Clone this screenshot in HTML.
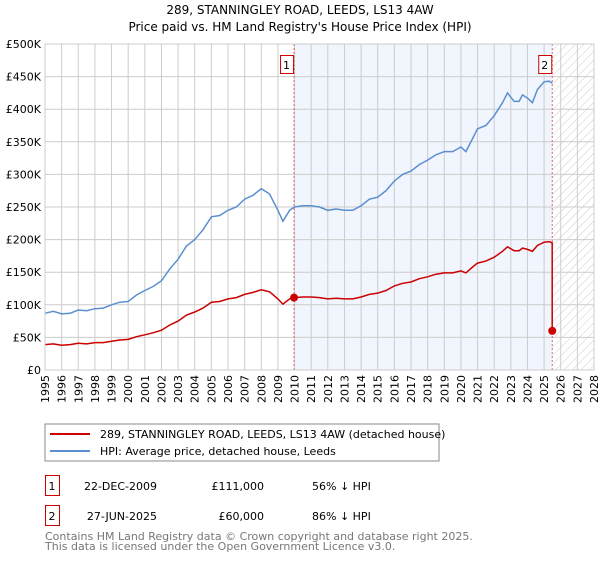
<!DOCTYPE html>
<html><head><meta charset="utf-8"><style>
body{margin:0;background:#fff;width:600px;height:560px;overflow:hidden;font-family:"DejaVu Sans","Liberation Sans",sans-serif;}
svg text{font-family:"DejaVu Sans","Liberation Sans",sans-serif;}
</style></head><body>
<svg id="chart" width="600" height="560" xmlns="http://www.w3.org/2000/svg">
<defs><pattern id="hatch" width="6" height="6" patternUnits="userSpaceOnUse" patternTransform="rotate(45)"><line x1="0" y1="0" x2="0" y2="6" stroke="#ccc" stroke-width="1"/></pattern></defs>
<text x="300" y="14" text-anchor="middle" font-size="12" fill="#000">289, STANNINGLEY ROAD, LEEDS, LS13 4AW</text>
<text x="300" y="31" text-anchor="middle" font-size="12" fill="#000">Price paid vs. HM Land Registry's House Price Index (HPI)</text>
<g id="plot"></g>
<rect x="45" y="424" width="394" height="37" fill="#fff" stroke="#888"/>
<line x1="50" y1="434" x2="90" y2="434" stroke="#cc0000" stroke-width="2"/>
<text x="100" y="438" font-size="11">289, STANNINGLEY ROAD, LEEDS, LS13 4AW (detached house)</text>
<line x1="50" y1="451" x2="90" y2="451" stroke="#5b8fd0" stroke-width="2"/>
<text x="100" y="455" font-size="11">HPI: Average price, detached house, Leeds</text>
<g font-size="11">
<rect x="45.5" y="475.5" width="14" height="20" fill="#fff" stroke="#cc0000"/>
<text x="52" y="490" text-anchor="middle">1</text>
<text x="157" y="490" text-anchor="end">22-DEC-2009</text>
<text x="264" y="490" text-anchor="end">£111,000</text>
<text x="312" y="490">56% ↓ HPI</text>
<rect x="45.5" y="505.5" width="14" height="20" fill="#fff" stroke="#cc0000"/>
<text x="52" y="520" text-anchor="middle">2</text>
<text x="157" y="520" text-anchor="end">27-JUN-2025</text>
<text x="264" y="520" text-anchor="end">£60,000</text>
<text x="312" y="520">86% ↓ HPI</text>
</g>
<text x="45" y="540" font-size="11" fill="#777">Contains HM Land Registry data © Crown copyright and database right 2025.</text>
<text x="45" y="550" font-size="11" fill="#777">This data is licensed under the Open Government Licence v3.0.</text>
</svg>
<script>
const hpiDates=[1995,1995.5,1996,1996.5,1997,1997.5,1998,1998.5,1999,1999.5,2000,2000.5,2001,2001.5,2002,2002.5,2003,2003.5,2004,2004.5,2005,2005.5,2006,2006.5,2007,2007.5,2008,2008.5,2009,2009.3,2009.7,2010,2010.5,2011,2011.5,2012,2012.5,2013,2013.5,2014,2014.5,2015,2015.5,2016,2016.5,2017,2017.5,2018,2018.5,2019,2019.5,2020,2020.3,2020.7,2021,2021.5,2022,2022.5,2022.8,2023.2,2023.5,2023.7,2024,2024.3,2024.6,2025,2025.3,2025.49];
const hpiValues=[87,90,86,87,92,91,94,95,100,104,105,115,122,128,137,155,170,190,200,215,235,237,245,250,262,268,278,270,245,228,245,250,252,252,250,245,247,245,245,252,262,265,275,290,300,305,315,322,330,335,335,342,335,355,370,375,390,410,425,412,412,422,417,410,430,442,443,440];
const priceDates=[1995,1995.5,1996,1996.5,1997,1997.5,1998,1998.5,1999,1999.5,2000,2000.5,2001,2001.5,2002,2002.5,2003,2003.5,2004,2004.5,2005,2005.5,2006,2006.5,2007,2007.5,2008,2008.5,2009,2009.3,2009.7,2010,2010.5,2011,2011.5,2012,2012.5,2013,2013.5,2014,2014.5,2015,2015.5,2016,2016.5,2017,2017.5,2018,2018.5,2019,2019.5,2020,2020.3,2020.7,2021,2021.5,2022,2022.5,2022.8,2023.2,2023.5,2023.7,2024,2024.3,2024.6,2025,2025.3,2025.49,2025.49];
const priceValues=[39,40,38,39,41,40,42,42,44,46,47,51,54,57,61,69,75,84,89,95,104,105,109,111,116,119,123,120,109,101,109,111,112,112,111,109,110,109,109,112,116,118,122,129,133,135,140,143,147,149,149,152,149,158,164,167,173,182,189,183,183,187,185,182,191,196,197,195,60];
const saleDates=[2009.97,2025.49];
const saleValues=[111,60];
const saleLabels=["1","2"];
const yTicks=[0,50,100,150,200,250,300,350,400,450,500];
const yTickLabels=["£0","£50K","£100K","£150K","£200K","£250K","£300K","£350K","£400K","£450K","£500K"];
const xYears=[1995,1996,1997,1998,1999,2000,2001,2002,2003,2004,2005,2006,2007,2008,2009,2010,2011,2012,2013,2014,2015,2016,2017,2018,2019,2020,2021,2022,2023,2024,2025,2026,2027,2028];

const X0=45,X1=594,Y0=370,Y1=44;
const xs=v=>X0+(v-1995)/(2028-1995)*(X1-X0);
const ys=v=>Y0-v/500*(Y0-Y1);
const NS="http://www.w3.org/2000/svg";
const g=document.getElementById('plot');
function mk(t,a){const e=document.createElementNS(NS,t);for(const k in a)e.setAttribute(k,a[k]);g.appendChild(e);return e;}
let e;
e=mk('rect',{x:xs(saleDates[0]),y:Y1,width:xs(saleDates[1])-xs(saleDates[0]),height:Y0-Y1,fill:'#eef3fc',opacity:0.8});


e=mk('rect',{x:xs(saleDates[1]),y:Y1,width:X1-xs(saleDates[1]),height:Y0-Y1,fill:'url(#hatch)'});


yTicks.forEach((t,i)=>{
 e=mk('line',{x1:X0,x2:X1,y1:ys(t),y2:ys(t),stroke:'#ccc','stroke-width':1});
 
 
 e=mk('text',{x:X0-4,y:ys(t)+4,'text-anchor':'end','font-size':11});
 e.textContent=yTickLabels[i];
 
 
});
xYears.forEach(yr=>{
 e=mk('line',{x1:xs(yr),x2:xs(yr),y1:Y1,y2:Y0,stroke:'#ccc','stroke-width':1});
 
 
 e=mk('text',{x:0,y:0,'text-anchor':'end','font-size':11,transform:`translate(${xs(yr)+4},${Y0+5}) rotate(-90)`});
 e.textContent=yr;
 
 
});
saleDates.forEach((d,i)=>{
 e=mk('line',{x1:xs(d),x2:xs(d),y1:Y1,y2:Y0,stroke:'#e06666','stroke-width':1,'stroke-dasharray':'2,2'});
 
 
});
const path=(ds,vs)=>ds.map((d,i)=>(i?'L':'M')+xs(d).toFixed(1)+','+ys(vs[i]).toFixed(1)).join('');
e=mk('path',{d:path(hpiDates,hpiValues),fill:'none',stroke:'#5b8fd0','stroke-width':1.5});


e=mk('path',{d:path(priceDates,priceValues),fill:'none',stroke:'#cc0000','stroke-width':1.5});


saleDates.forEach((d,i)=>{
 e=mk('circle',{cx:xs(d),cy:ys(saleValues[i]),r:4,fill:'#cc0000'});
 
 
 e=mk('rect',{x:xs(d)-14+0.5,y:55.5,width:13,height:18,fill:'#fff',stroke:'#cc0000'});
 
 
 e=mk('text',{x:xs(d)-7.5,y:69,'text-anchor':'middle','font-size':11});
 e.textContent=saleLabels[i];
 
 
});
e=mk('rect',{x:X0,y:Y1,width:X1-X0,height:Y0-Y1,fill:'none',stroke:'#ccc'});


</script>
</body></html>
